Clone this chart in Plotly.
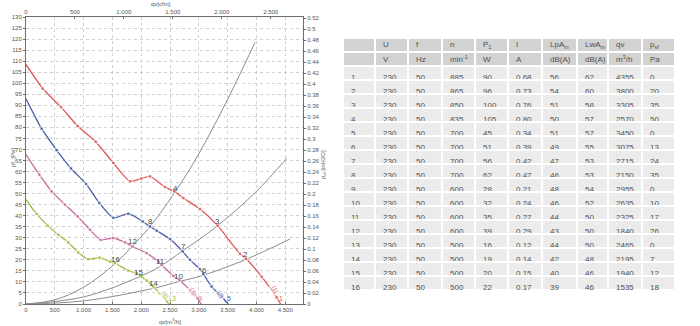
import plotly.graph_objects as go

# ---------------- data ----------------
# fan curves (qv in m3/h, pressure in Pa)
red_q = [0, 290, 608, 897, 1210, 1516, 1806, 2000, 2153, 2413, 2575, 2731, 3021, 3327, 3715, 3820, 4091, 4352, 4420]
red_p = [108.5, 97.6, 89.2, 80.6, 73.5, 63.9, 55.6, 56.8, 57.8, 53, 51, 48, 43, 35.5, 22.7, 20.5, 12.4, 3, 0]
blue_q = [0, 272, 532, 781, 1042, 1273, 1516, 1776, 2025, 2153, 2269, 2500, 2720, 2847, 3021, 3079, 3223, 3397, 3510]
blue_p = [93, 79.4, 69.7, 61.4, 54.4, 45.8, 39, 40.9, 37.4, 35.1, 33.2, 29.4, 23.8, 20, 15.8, 13.6, 7.9, 3.3, 0]
pink_q = [0, 231, 446, 677, 897, 1111, 1297, 1516, 1719, 1852, 2095, 2297, 2355, 2558, 2662, 2847, 2934, 3040]
pink_p = [67.7, 58.6, 51, 45, 39.7, 33.6, 29, 29.9, 27.9, 26, 23, 19.2, 17.7, 12.7, 10.9, 6.4, 4.1, 0]
green_q = [0, 185, 376, 561, 735, 908, 1082, 1273, 1458, 1545, 1776, 1922, 2095, 2210, 2314, 2384, 2480]
green_p = [47.3, 40.8, 35.5, 31.4, 27.9, 23.3, 20.3, 21, 19.2, 18.5, 15.1, 13.9, 10.6, 7.9, 4.9, 3.3, 0]

# system curves
sysA_q = [0, 500, 1000, 1535, 1840, 2150, 2570, 3000, 3500, 3976]
sysA_p = [0, 1.9, 7.6, 18, 26, 35, 50, 68, 92.7, 118.5]
sysB_q = [0, 1000, 1940, 2325, 2715, 3305, 4000, 4526]
sysB_p = [0, 3.2, 12, 17, 24, 35, 51, 66]
sysC_q = [0, 1000, 2195, 2635, 3075, 3800, 4583]
sysC_p = [0, 1.4, 7, 10, 13, 20, 29.4]

# table
row_id = [str(i) for i in range(1, 17)]
U = [230] * 16
f = [50] * 16
n = [885, 865, 850, 835, 700, 700, 700, 700, 600, 600, 600, 600, 500, 500, 500, 500]
P1 = [90, 96, 100, 105, 45, 51, 56, 62, 28, 32, 35, 39, 16, 19, 20, 22]
I = ["0.68", "0.73", "0.76", "0.80", "0.34", "0.39", "0.42", "0.47",
     "0.21", "0.24", "0.27", "0.29", "0.12", "0.14", "0.15", "0.17"]
LpA = [56, 54, 51, 50, 51, 49, 47, 46, 48, 46, 44, 43, 44, 42, 40, 39]
LwA = [62, 60, 58, 57, 57, 55, 53, 53, 54, 52, 50, 50, 50, 48, 46, 46]
qv = [4355, 3800, 3305, 2570, 3450, 3075, 2715, 2150, 2955, 2635, 2325, 1840, 2465, 2195, 1940, 1535]
psf = [0, 20, 35, 50, 0, 13, 24, 35, 0, 10, 17, 26, 0, 7, 12, 18]

hdr_names = ["", "U", "f", "n", "P<sub>1</sub>", "I", "LpA<sub>in</sub>", "LwA<sub>in</sub>", "qv", "p<sub>sf</sub>"]
hdr_units = ["", "V", "Hz", "min<sup>-1</sup>", "W", "A", "dB(A)", "dB(A)", "m<sup>3</sup>/h", "Pa"]

bottom_tickvals = [0, 500, 1000, 1500, 2000, 2500, 3000, 3500, 4000, 4500]
bottom_ticktext = ["0", "500", "1.000", "1.500", "2.000", "2.500", "3.000", "3.500", "4.000", "4.500"]
top_tickvals = [0, 500, 1000, 1500, 2000, 2500]
top_ticktext = ["0", "500", "1.000", "1.500", "2.000", "2.500"]

XMAX = 4809
CFM = 1.699
PA_PER_INH2O = 249.0889
YMAX = 130

RED, BLUE, PINK, GREEN = "#e0565a", "#4a5ea8", "#c9699f", "#9fbd3f"
GRAY = "#8c8c8c"
FONT = "Liberation Sans, Arial, sans-serif"
TXT = "#505050"

fig = go.Figure()

for q, p in [(sysA_q, sysA_p), (sysB_q, sysB_p), (sysC_q, sysC_p)]:
    fig.add_trace(go.Scatter(x=q, y=p, mode="lines", line=dict(color=GRAY, width=1, shape="spline"),
                             hoverinfo="skip"))

for q, p, c in [(red_q, red_p, RED), (blue_q, blue_p, BLUE), (pink_q, pink_p, PINK), (green_q, green_p, GREEN)]:
    sizes = [0] + [3.5] * (len(q) - 2) + [0]
    fig.add_trace(go.Scatter(x=q, y=p, mode="lines+markers",
                             line=dict(color=c, width=1.3, shape="spline", smoothing=0.6),
                             marker=dict(symbol="square", size=sizes, color=c)))

# dummy traces to activate secondary axes
fig.add_trace(go.Scatter(x=[0], y=[0], xaxis="x2", yaxis="y", mode="markers",
                         marker=dict(opacity=0), hoverinfo="skip"))
fig.add_trace(go.Scatter(x=[0], y=[0], xaxis="x", yaxis="y2", mode="markers",
                         marker=dict(opacity=0), hoverinfo="skip"))

# ---------------- table ----------------
TBL_L, TBL_R, TBL_T = 343, 675, 38
colw = [32, 33, 34, 33, 33, 34, 35, 31, 34, 33]
ROW_H = 14
cols = [[" ", *row_id], [" ", *U], [" ", *f], [" ", *n], [" ", *P1],
        [" ", *I], [" ", *LpA], [" ", *LwA], [" ", *qv], [" ", *psf]]
fills = [["#d2d2d2"] + ["#ebebeb"] * 16 for _ in cols]
fig.add_trace(go.Table(
    domain=dict(x=[TBL_L / 700, TBL_R / 700], y=[0.02, 1 - TBL_T / 326]),
    columnwidth=colw,
    header=dict(values=[" "] * 10, fill_color="#d2d2d2", line=dict(color="white", width=1.5),
                align="left", height=ROW_H, font=dict(size=8, color=TXT, family=FONT)),
    cells=dict(values=cols, fill_color=fills, line=dict(color="white", width=1.5),
               align="left", height=ROW_H, font=dict(size=8, color=TXT, family=FONT)),
))

ann = []
# header / unit texts (with sub/superscripts) overlaid on the table
xl = TBL_L
for j in range(10):
    for txt, yc in [(hdr_names[j], TBL_T + ROW_H / 2), (hdr_units[j], TBL_T + ROW_H * 1.5)]:
        if txt:
            ann.append(dict(x=(xl + 6) / 700, y=1 - yc / 326, xref="paper", yref="paper", text=txt,
                            showarrow=False, xanchor="left", yanchor="middle",
                            font=dict(size=8, color=TXT, family=FONT)))
    xl += colw[j]

curve_col = [RED] * 4 + [BLUE] * 4 + [PINK] * 4 + [GREEN] * 4
for i in range(16):
    end = psf[i] == 0
    ann.append(dict(x=qv[i], y=psf[i], xref="x", yref="y", text=row_id[i], showarrow=False,
                    xshift=4 if end else 1, yshift=6 if end else 5,
                    font=dict(size=8 if not end else 7, color=curve_col[i] if end else "#444", family=FONT)))
# small rotated curve tags
for x, y, t, c in [(4323, 7, "(1)", RED), (3368, 4.5, "(2)", BLUE), (2899, 5.5, "(3)", PINK), (2413, 4, "(4)", GREEN)]:
    ann.append(dict(x=x, y=y, xref="x", yref="y", text=t, showarrow=False, textangle=60,
                    font=dict(size=6, color=c, family=FONT), bgcolor="rgba(255,255,255,0.6)"))
# axis titles
ann.append(dict(x=150 / 700, y=1, xref="paper", yref="paper", text="qv[cfm]", showarrow=False,
                yanchor="top", borderpad=0, font=dict(size=6, color="#555", family=FONT)))
ann.append(dict(x=158 / 700, y=0, xref="paper", yref="paper", text="qv[m<sup>3</sup>/h]", showarrow=False,
                yanchor="bottom", borderpad=0, font=dict(size=6, color="#555", family=FONT)))
ann.append(dict(x=8 / 700, y=1 - 158 / 326, xref="paper", yref="paper", text="pf  [Pa]", showarrow=False,
                textangle=-90, font=dict(size=6, color="#555", family=FONT)))
ann.append(dict(x=323 / 700, y=1 - 165 / 326, xref="paper", yref="paper", text="p<sub>sf</sub> [inH2O]",
                showarrow=False, textangle=-90, font=dict(size=6, color="#555", family=FONT)))

axis_common = dict(showline=True, linecolor="#6e6e6e", linewidth=1, ticklen=2,
                   tickcolor="#6e6e6e", tickfont=dict(size=6, color="#555", family=FONT),
                   zeroline=False, automargin=False)
xd = [26 / 700, 303 / 700]
yd = [1 - 304 / 326, 1 - 17 / 326]

fig.update_layout(
    template="none",
    width=700, height=326, margin=dict(l=0, r=0, t=0, b=0),
    paper_bgcolor="white", plot_bgcolor="white", showlegend=False,
    font=dict(family=FONT),
    xaxis=dict(domain=xd, range=[0, XMAX], tickvals=bottom_tickvals, ticktext=bottom_ticktext, ticks="inside",
               showgrid=True, gridcolor="#d0d0d0", griddash="dot", gridwidth=1, **axis_common),
    yaxis=dict(domain=yd, range=[0, YMAX], tick0=0, dtick=5, ticks="outside",
               showgrid=True, gridcolor="#d0d0d0", griddash="dot", gridwidth=1, **axis_common),
    xaxis2=dict(overlaying="x", side="top", anchor="y", range=[0, XMAX / CFM], ticks="inside",
                tickvals=top_tickvals, ticktext=top_ticktext, showgrid=False, **axis_common),
    yaxis2=dict(overlaying="y", side="right", anchor="x", range=[0, YMAX / PA_PER_INH2O], ticks="outside",
                tick0=0, dtick=0.02, showgrid=False, **axis_common),
    annotations=ann,
)

fig.write_html("out.html")
